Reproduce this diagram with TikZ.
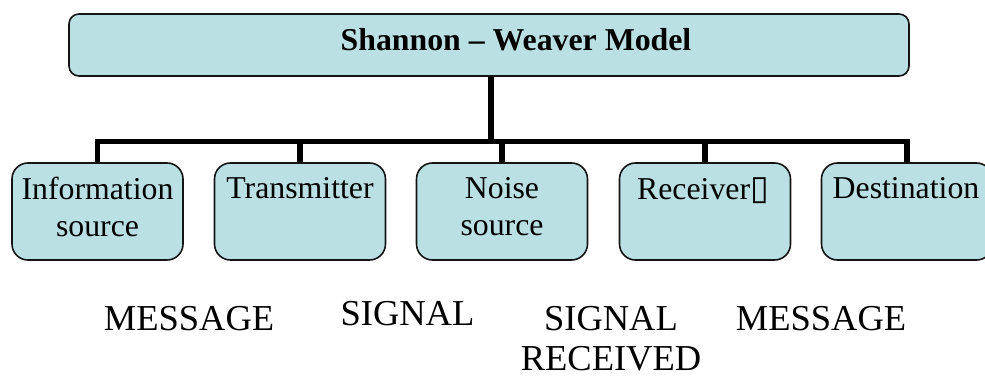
\documentclass[tikz,border=0pt]{standalone}
\usepackage{fontspec}
\setmainfont{Liberation Serif}
\newfontfamily\symfont{DejaVu Sans}
\definecolor{boxfill}{RGB}{186,224,227}
\definecolor{edge}{RGB}{20,20,20}
\begin{document}
\begin{tikzpicture}[x=1pt,y=-1pt,
  topbox/.style={draw=edge, line width=1.6pt, fill=boxfill, rounded corners=10pt,
    minimum width=840pt, minimum height=62pt, inner sep=0pt},
  leaf/.style={draw=edge, line width=1.6pt, fill=boxfill, rounded corners=16pt,
    minimum width=171pt, minimum height=97pt, inner sep=0pt},
  link/.style={draw=black, line width=5.5pt, line join=miter},
  titletext/.style={font=\fontsize{31.8}{38}\selectfont\bfseries, inner sep=0pt, anchor=base},
  boxtext/.style={font=\fontsize{31.8}{37}\selectfont, align=center, inner sep=0pt, anchor=north},
  flowtext/.style={font=\fontsize{36.5}{40}\selectfont, align=center, inner sep=0pt, anchor=base}
]
\useasboundingbox (0,0) rectangle (985,377);
% top box
\node[topbox] (top) at (489,45) {};
\node[titletext] (title) at (516,50.5) {Shannon – Weaver Model};
% leaf boxes
\node[leaf] (b1) at (97.5,211.5) {};
\node[leaf] (b2) at (300,211.5) {};
\node[leaf] (b3) at (502,211.5) {};
\node[leaf] (b4) at (705,211.5) {};
\node[leaf] (b5) at (907,211.5) {};
% connectors
\coordinate (bus) at (491,141.5);
\draw[link] (top.south -| bus) -- (bus);
\draw[link] (b1.north) |- (b5.north |- bus) -- (b5.north);
\draw[link] (b2.north) -- (b2.north |- bus);
\draw[link] (b3.north) -- (b3.north |- bus);
\draw[link] (b4.north) -- (b4.north |- bus);
% box texts
\node[boxtext] (t1) at (97.5,177) {Information\\source};
\node[boxtext] (t2) at (300,177) {Transmitter};
\node[boxtext] (t3) at (502,177) {Noise\\source};
\node[boxtext] (t4) at (703,177) {Receiver{\symfont\fontsize{34}{34}\selectfont ▯}};
\node[boxtext] (t5) at (906,177) {Destination};
% flow labels
\node[flowtext] (m1) at (189,330) {MESSAGE};
\node[flowtext] (s1) at (407.5,325) {SIGNAL};
\node[flowtext] (s2) at (611,370) {SIGNAL\\RECEIVED};
\node[flowtext] (m2) at (821,330) {MESSAGE};
\end{tikzpicture}
\end{document}
